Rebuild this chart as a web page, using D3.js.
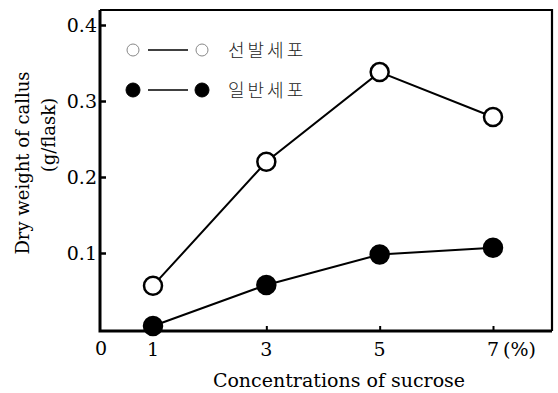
<!DOCTYPE html>
<html>
<head>
<meta charset="utf-8">
<script src="https://cdn.jsdelivr.net/npm/d3@7"></script>
<style>
  html, body { margin: 0; padding: 0; background: #fff; }
  svg { display: block; }
</style>
</head>
<body>
<svg id="chart" width="558" height="393"></svg>
<script>
// sucrose concentration (%)
const concentrations = [1, 3, 5, 7];
// dry weight of callus (g/flask)
const selectedCells = [0.057, 0.220, 0.338, 0.279];
const normalCells = [0.004, 0.058, 0.098, 0.107];
const seriesNames = ['선발세포', '일반세포'];
const yTicks = [0.1, 0.2, 0.3, 0.4];
const xTicks = [1, 3, 5, 7];

const frameL = 100, frameR = 552, frameT = 10, frameB = 331;

const svg = d3.select('#chart');

const x = d3.scaleLinear().domain([1, 7]).range([153, 493]);
const y = d3.scaleLinear().domain([0, 0.4]).range([329, 25]);

const serif = "'DejaVu Serif', 'Liberation Serif', serif";

// frame
svg.append('path')
  .attr('d', `M${frameL},${frameT} L${frameR},${frameT} L${frameR},${frameB}`)
  .attr('fill', 'none')
  .attr('stroke', '#000')
  .attr('stroke-width', 2.2);

svg.append('path')
  .attr('d', `M${frameL},${frameT} L${frameL},${frameB} L${frameR},${frameB}`)
  .attr('fill', 'none')
  .attr('stroke', '#000')
  .attr('stroke-width', 3);

// y axis (ticks point inward)
const yAxis = d3.axisRight(y).tickValues(yTicks).tickSize(6).tickFormat('');
const gy = svg.append('g').attr('transform', `translate(${frameL},0)`).call(yAxis);
gy.select('.domain').remove();
gy.selectAll('line').attr('stroke', '#000').attr('stroke-width', 2.5);

svg.append('g').selectAll('text')
  .data(yTicks)
  .enter()
  .append('text')
  .attr('x', frameL - 3)
  .attr('y', d => y(d) + 7)
  .attr('text-anchor', 'end')
  .style('font-family', serif)
  .attr('font-size', '19px')
  .text(d => d.toFixed(1));

// x axis (ticks point inward)
const xAxis = d3.axisTop(x).tickValues(xTicks.slice(1)).tickSize(5).tickFormat('');
const gx = svg.append('g').attr('transform', `translate(0,${frameB})`).call(xAxis);
gx.select('.domain').remove();
gx.selectAll('line').attr('stroke', '#000').attr('stroke-width', 2);

svg.append('g').selectAll('text')
  .data(xTicks)
  .enter()
  .append('text')
  .attr('x', d => x(d))
  .attr('y', 356)
  .attr('text-anchor', 'middle')
  .style('font-family', serif)
  .attr('font-size', '19px')
  .text(d => d);

svg.append('text')
  .attr('x', frameL + 1)
  .attr('y', 355)
  .attr('text-anchor', 'middle')
  .style('font-family', serif)
  .attr('font-size', '19px')
  .text('0');

svg.append('text')
  .attr('x', 503)
  .attr('y', 356)
  .style('font-family', serif)
  .attr('font-size', '19px')
  .text('(%)');

// axis titles
svg.append('text')
  .attr('x', 339)
  .attr('y', 387)
  .attr('text-anchor', 'middle')
  .style('font-family', serif)
  .attr('font-size', '19px')
  .text('Concentrations of sucrose');

svg.append('text')
  .attr('transform', 'translate(29,163) rotate(-90)')
  .attr('text-anchor', 'middle')
  .style('font-family', serif)
  .attr('font-size', '18px')
  .text('Dry weight of callus');

svg.append('text')
  .attr('transform', 'translate(55,135) rotate(-90)')
  .attr('text-anchor', 'middle')
  .style('font-family', serif)
  .attr('font-size', '18px')
  .text('(g/flask)');

// series
const line = d3.line().x(d => x(d[0])).y(d => y(d[1]));
const series = [
  { name: seriesNames[0], values: selectedCells, fill: '#fff' },
  { name: seriesNames[1], values: normalCells, fill: '#000' }
];

series.forEach(s => {
  const pts = concentrations.map((c, i) => [c, s.values[i]]);
  svg.append('path')
    .datum(pts)
    .attr('d', line)
    .attr('fill', 'none')
    .attr('stroke', '#000')
    .attr('stroke-width', 2);
  svg.append('g').selectAll('circle')
    .data(pts)
    .enter()
    .append('circle')
    .attr('cx', d => x(d[0]))
    .attr('cy', d => y(d[1]))
    .attr('r', 9)
    .attr('fill', s.fill)
    .attr('stroke', '#000')
    .attr('stroke-width', 2.5);
});

// legend
const legend = svg.append('g');
const legendRows = [
  { y: 50, fill: '#fff', stroke: '#888', sw: 1, r: 6 },
  { y: 90, fill: '#000', stroke: '#000', sw: 1, r: 7 }
];
legendRows.forEach((row, i) => {
  const g = legend.append('g').attr('transform', `translate(0,${row.y})`);
  g.append('line')
    .attr('x1', 148).attr('x2', 188)
    .attr('y1', 0).attr('y2', 0)
    .attr('stroke', '#000')
    .attr('stroke-width', 1.5);
  [133, 202].forEach(cx => {
    g.append('circle')
      .attr('cx', cx).attr('cy', 0)
      .attr('r', row.r)
      .attr('fill', row.fill)
      .attr('stroke', row.stroke)
      .attr('stroke-width', row.sw);
  });
  g.append('text')
    .attr('x', 228)
    .attr('y', 7)
    .style('font-family', "'Noto Sans CJK KR'")
    .attr('font-weight', 300)
    .attr('font-size', '18px')
    .attr('letter-spacing', '3px')
    .attr('fill', '#222')
    .text(seriesNames[i]);
});
</script>
</body>
</html>
